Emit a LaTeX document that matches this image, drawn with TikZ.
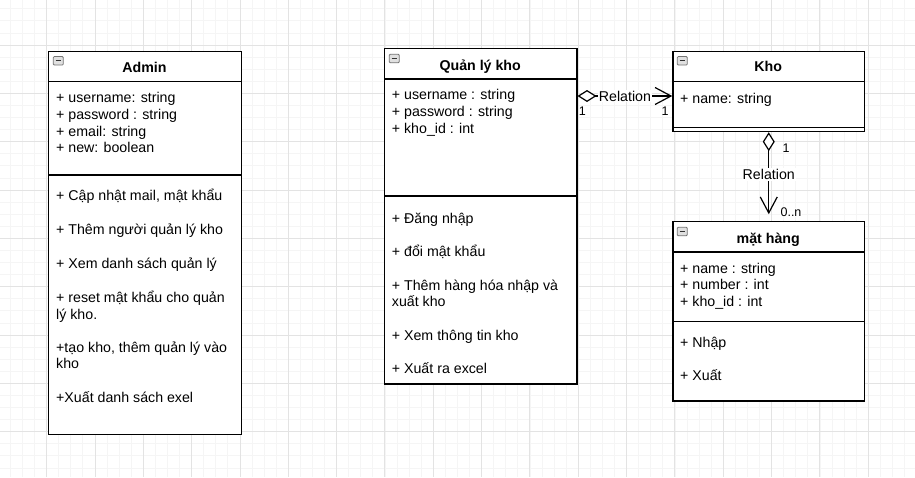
\documentclass[tikz,border=0pt]{standalone}
\usepackage{fontspec}
\setmainfont{Liberation Sans}
\usetikzlibrary{arrows.meta}

\tikzset{
  gridminor/.style={draw=black!4, line width=0.8pt},
  gridmajor/.style={draw=black!11, line width=0.9pt},
  classbox/.style={draw, line width=1.2pt, fill=white, inner sep=0pt, anchor=north west},
  sepline/.style={line width=1.2pt},
  headtitle/.style={anchor=base, inner sep=0pt, font=\bfseries\fontsize{14.2}{17}\selectfont},
  attr/.style={anchor=base west, inner sep=0pt, font=\fontsize{14.2}{16.7}\selectfont},
  minusicon/.style={draw=black!55, fill=black!12, rounded corners=1pt, line width=0.8pt,
    minimum width=10pt, minimum height=8.5pt, inner sep=0pt,
    path picture={\draw[line width=1.3pt, black!80]
      ([xshift=2.3pt]path picture bounding box.west) -- ([xshift=-2.3pt]path picture bounding box.east);}},
  assoc/.style={line width=1.2pt,
    {Diamond[open, fill=white, length=19pt, width=12pt, line width=1.2pt]}-{Straight Barb[length=16pt, width=17pt, line width=1.2pt]}},
  rellabel/.style={fill=white, inner sep=1pt, font=\fontsize{14.2}{16}\selectfont},
  multlabel/.style={inner sep=1pt, font=\fontsize{12.5}{14}\selectfont}
}

\begin{document}
\begin{tikzpicture}[x=1pt,y=-1pt]
  \useasboundingbox (0,0) rectangle (915,477);
  \fill[white] (0,0) rectangle (915,477);

  % background grid
  \foreach \i in {1,...,76}
    \draw[gridminor] ({-1.7+12.083*\i},0) -- ({-1.7+12.083*\i},477);
  \foreach \j in {1,...,40}
    \draw[gridminor] (0,{-3.3+12.083*\j}) -- (915,{-3.3+12.083*\j});
  \foreach \i in {1,...,19}
    \draw[gridmajor] ({-1.7+48.33*\i},0) -- ({-1.7+48.33*\i},477);
  \foreach \j in {1,...,10}
    \draw[gridmajor] (0,{-3.3+48.33*\j}) -- (915,{-3.3+48.33*\j});

  % Admin
  \node[classbox, minimum width=193pt, minimum height=383.3pt] (admin) at (48,50.7) {};
  \draw[sepline] (48,81.7) -- (241,81.7);
  \draw[sepline] (48,175) -- (241,175);
  \node[minusicon] (admin-icon) at (58.3,60.8) {};
  \node[headtitle] (admin-title) at (144.5,72) {Admin};
  \foreach \y/\t [count=\i] in {98/{+ username: string}, 114.7/{+ password : string},
      131.3/{+ email: string}, 148/{+ new: boolean},
      195.7/{+ Cập nhật mail, mật khẩu}, 229.8/{+ Thêm người quản lý kho},
      263.3/{+ Xem danh sách quản lý}, 297.3/{+ reset mật khẩu cho quản},
      314.2/{lý kho.}, 347.3/{+tạo kho, thêm quản lý vào}, 364/{kho},
      397.3/{+Xuất danh sách exel}}
    \node[attr] (admin-l\i) at (56,\y+4.8) {\t};

  % Quan ly kho
  \node[classbox, minimum width=192.3pt, minimum height=335.6pt] (qlk) at (384,47.7) {};
  \draw[sepline] (384,79) -- (576.3,79);
  \draw[sepline] (384,196) -- (576.3,196);
  \node[minusicon] (qlk-icon) at (394.3,58.5) {};
  \node[headtitle] (qlk-title) at (480.2,70) {Quản lý kho};
  \foreach \y/\t [count=\i] in {95/{+ username : string}, 111.7/{+ password : string},
      128.6/{+ kho\_id : int},
      218.3/{+ Đăng nhập}, 251.7/{+ đổi mật khẩu},
      285.3/{+ Thêm hàng hóa nhập và}, 302/{xuất kho},
      335.3/{+ Xem thông tin kho}, 369/{+ Xuất ra excel}}
    \node[attr] (qlk-l\i) at (391.7,\y+4.8) {\t};

  % Kho
  \node[classbox, minimum width=191.7pt, minimum height=80.3pt] (kho) at (672.3,50.7) {};
  \draw[sepline] (672.3,81.7) -- (864,81.7);
  \draw[sepline] (672.3,127.3) -- (864,127.3);
  \node[minusicon] (kho-icon) at (682.3,60.8) {};
  \node[headtitle] (kho-title) at (768.2,71.7) {Kho};
  \node[attr] (kho-l1) at (680,98.3+4.8) {+ name: string};

  % mat hang
  \node[classbox, minimum width=191.7pt, minimum height=179.6pt] (mathang) at (672.3,220.7) {};
  \draw[sepline] (672.3,252) -- (864,252);
  \draw[sepline] (672.3,321.3) -- (864,321.3);
  \node[minusicon] (mathang-icon) at (682.3,231.5) {};
  \node[headtitle] (mathang-title) at (768.2,243.3) {mặt hàng};
  \foreach \y/\t [count=\i] in {268.3/{+ name : string}, 285/{+ number : int},
      301.7/{+ kho\_id : int}, 342.3/{+ Nhập}, 375.7/{+ Xuất}}
    \node[attr] (mathang-l\i) at (680,\y+4.8) {\t};

  % relations
  \draw[assoc] (qlk.east |- 0,96) -- node[rellabel] (rel1) {Relation} (kho.west |- 0,96);
  \node[multlabel] (rel1-src) at (582.3,111) {1};
  \node[multlabel] (rel1-dst) at (665,111) {1};

  \draw[assoc, shorten >=6.5pt] (kho.south) -- node[rellabel, pos=0.48] (rel2) {Relation} (mathang.north);
  \node[multlabel] (rel2-src) at (786,147.7) {1};
  \node[multlabel, fill=white, inner sep=0.5pt] (rel2-dst) at (791,212.5) {0..n};
\end{tikzpicture}
\end{document}
